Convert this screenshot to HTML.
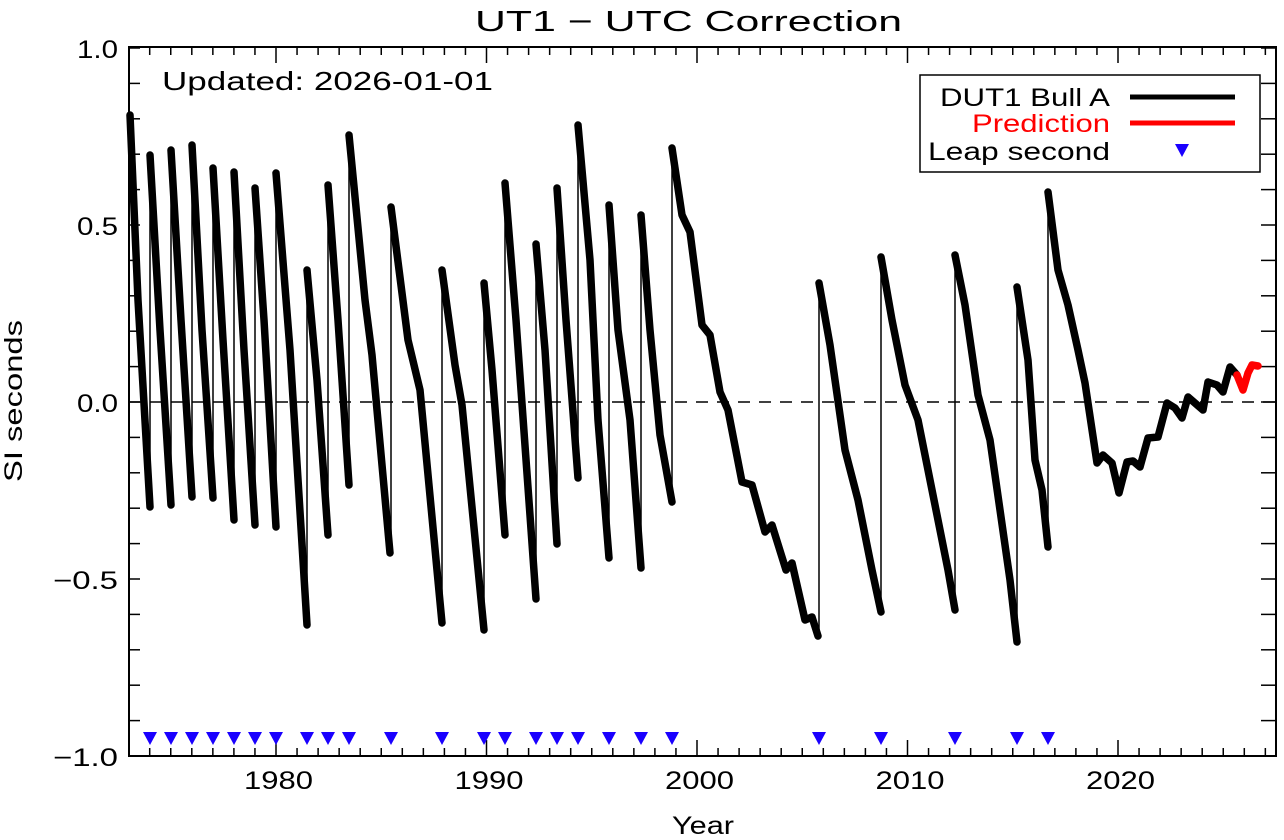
<!DOCTYPE html>
<html><head><meta charset="utf-8"><style>
html,body{margin:0;padding:0;background:#fff;}
svg{display:block;font-family:"Liberation Sans",sans-serif;}
</style></head><body>
<svg id="s" width="1284" height="840" viewBox="0 0 1284 840" xmlns="http://www.w3.org/2000/svg">
<rect width="1284" height="840" fill="#fff"/>
<text x="475" y="31" font-size="29" textLength="427" lengthAdjust="spacingAndGlyphs">UT1 − UTC Correction</text>
<text x="672" y="834" font-size="25" textLength="62" lengthAdjust="spacingAndGlyphs">Year</text>
<text transform="translate(22,482) rotate(-90)" font-size="25" textLength="162" lengthAdjust="spacingAndGlyphs">SI seconds</text>
<text x="162" y="90" font-size="26" textLength="331" lengthAdjust="spacingAndGlyphs">Updated: 2026-01-01</text>
<line x1="129" y1="402" x2="1276" y2="402" stroke="#000" stroke-width="1.5" stroke-dasharray="12,9"/>
<g id="ticks" stroke="#000" stroke-width="1.5"></g>
<g id="labels" font-size="25"></g>
<g id="data" fill="none" stroke-linejoin="round" stroke-linecap="round"></g>
<g id="tri" fill="#1a00ff"></g>
<rect x="129" y="47" width="1147" height="709" fill="none" stroke="#000" stroke-width="2"/>
<rect x="920" y="75" width="340" height="97" fill="#fff" stroke="#000" stroke-width="1.5"/>
<text x="940" y="106" font-size="25" textLength="170" lengthAdjust="spacingAndGlyphs">DUT1 Bull A</text>
<text x="972" y="132" font-size="25" fill="#f00" textLength="138" lengthAdjust="spacingAndGlyphs">Prediction</text>
<text x="928" y="160" font-size="25" textLength="182" lengthAdjust="spacingAndGlyphs">Leap second</text>
<line x1="1130" y1="97" x2="1235" y2="97" stroke="#000" stroke-width="5"/>
<line x1="1130" y1="123" x2="1235" y2="123" stroke="#f00" stroke-width="5"/>
<polygon points="1175,144 1189,144 1182,157" fill="#1a00ff"/>
</svg>
<script>
var NS="http://www.w3.org/2000/svg";
function el(p,t,a,txt){var e=document.createElementNS(NS,t);for(var k in a)e.setAttribute(k,a[k]);if(txt)e.textContent=txt;document.getElementById(p).appendChild(e);return e;}
var L=129,R=1276,T=47,B=756;
function X(yr){return 276+(yr-1980)*21.05;}
function Y(v){return 402-v*354;}
for(var yr=1973;yr<=2027;yr++){var x=X(yr);if(x<L||x>R)continue;var big=yr%10==0;var len=big?16:8;
el("ticks","line",{x1:x,y1:B,x2:x,y2:B-len});el("ticks","line",{x1:x,y1:T,x2:x,y2:T+len});
if(big)el("labels","text",{x:x+2-34,y:B+33,textLength:69,lengthAdjust:"spacingAndGlyphs"},""+yr);}
for(var i=-10;i<=10;i++){var y=Y(i/10);el("ticks","line",{x1:L,y1:y,x2:L+11,y2:y});el("ticks","line",{x1:R,y1:y,x2:R-15,y2:y});
if(i%5==0){var neg=i<0;el("labels","text",{x:neg?53:77,y:y+10,textLength:neg?65:41,lengthAdjust:"spacingAndGlyphs"},(neg?"−":"")+Math.abs(i/10).toFixed(1));}}
var segs=[
[[130,115],[138,300],[150,507]],
[[150,155],[160,330],[171,505]],
[[171,150],[181,320],[192,497]],
[[192,145],[202,330],[213,498]],
[[213,168],[223,340],[234,520]],
[[234,172],[244,350],[255,525]],
[[255,188],[264,320],[276,527]],
[[276,173],[290,350],[307,625]],
[[307,270],[317,380],[328,535]],
[[328,185],[338,320],[349,485]],
[[349,135],[365,300],[372,355],[390,553]],
[[391,207],[408,340],[420,390],[442,623]],
[[442,270],[455,365],[462,405],[484,630]],
[[484,283],[492,370],[505,535]],
[[505,183],[516,320],[536,599]],
[[536,244],[545,350],[557,544]],
[[557,188],[566,320],[578,478]],
[[578,125],[590,260],[598,420],[609,558]],
[[609,205],[618,330],[630,420],[641,568]],
[[641,215],[650,330],[660,435],[672,502]],
[[672,148],[682,215],[690,232],[702,325],[710,335],[720,392],[728,410],[742,482],[752,485],[765,532],[772,525],[786,570],[792,563],[805,620],[812,617],[818,636]],
[[819,283],[830,345],[845,450],[858,500],[872,570],[881,612]],
[[881,257],[892,320],[905,385],[918,420],[935,505],[948,570],[955,610]],
[[955,255],[965,305],[978,395],[990,440],[1000,510],[1010,580],[1017,642]],
[[1017,287],[1028,360],[1035,460],[1042,490],[1048,547]],
[[1048,192],[1058,270],[1068,305],[1078,350],[1085,383],[1097,463],[1103,455],[1112,463],[1119,493],[1127,462],[1133,461],[1140,467],[1148,438],[1158,437],[1167,403],[1175,408],[1182,418],[1188,397],[1203,410],[1208,382],[1217,385],[1223,392],[1230,367],[1237,375]]
];
segs.forEach(function(s,i){
 if(i>0){var p=segs[i-1][segs[i-1].length-1];el("data","line",{x1:s[0][0],y1:p[1],x2:s[0][0],y2:s[0][1],stroke:"#000","stroke-width":1.5});}
});
segs.forEach(function(s){el("data","polyline",{points:s.map(function(p){return p.join(",")}).join(" "),stroke:"#000","stroke-width":7.5});});
el("data","polyline",{points:"1237,375 1243,390 1248,373 1252,365 1258,366",stroke:"#f00","stroke-width":7.5});
[150,171,192,213,234,255,276,307,328,349,391,442,484,505,536,557,578,609,641,672,819,881,955,1017,1048].forEach(function(x){
 el("tri","polygon",{points:(x-7)+",732 "+(x+7)+",732 "+x+",745"});});
</script>
</body></html>
